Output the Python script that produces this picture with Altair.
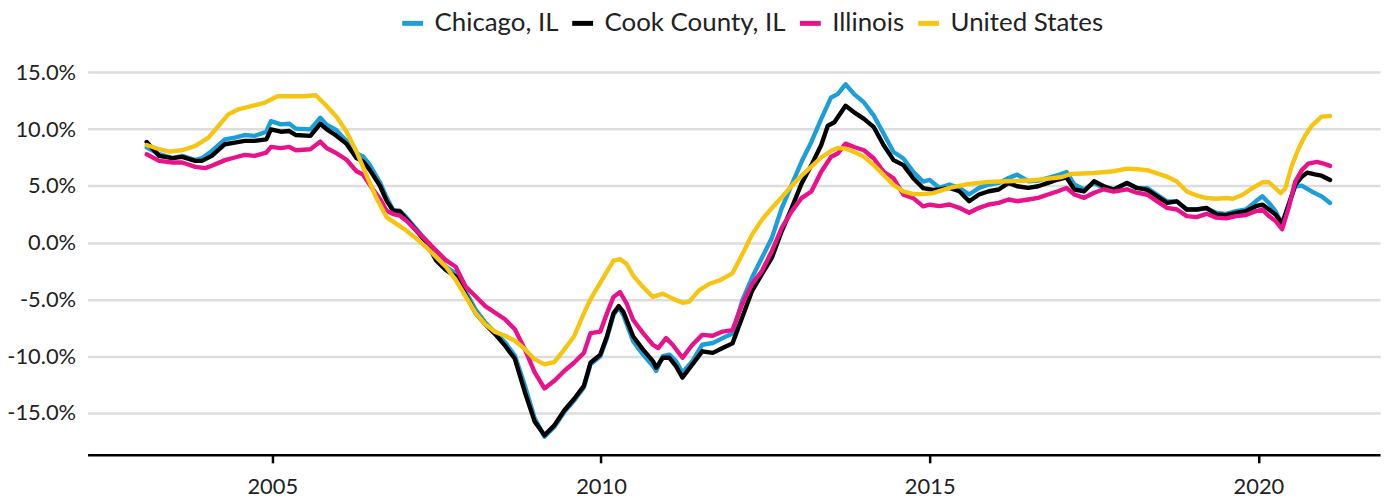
import altair as alt
import pandas as pd

series_names = ["Chicago, IL", "Cook County, IL", "Illinois", "United States"]
series_colors = ["#1c9fd9", "#000000", "#e8128a", "#f5c512"]

chicago_dates = [2003.09, 2003.28, 2003.48, 2003.63, 2003.83, 2003.93, 2004.08, 2004.28, 2004.43, 2004.58,
                 2004.73, 2004.91, 2004.98, 2005.13, 2005.26, 2005.36, 2005.58, 2005.73, 2005.83, 2005.96,
                 2006.13, 2006.28, 2006.38, 2006.48, 2006.64, 2006.74, 2006.84, 2006.94, 2007.04, 2007.19,
                 2007.34, 2007.49, 2007.64, 2007.79, 2007.94, 2008.09, 2008.24, 2008.39, 2008.54, 2008.69,
                 2008.84, 2008.99, 2009.14, 2009.29, 2009.44, 2009.59, 2009.74, 2009.84, 2009.99, 2010.09,
                 2010.19, 2010.27, 2010.34, 2010.49, 2010.64, 2010.79, 2010.84, 2010.94, 2011.04, 2011.14,
                 2011.24, 2011.39, 2011.54, 2011.70, 2011.85, 2012.00, 2012.15, 2012.30, 2012.45, 2012.60,
                 2012.75, 2012.90, 2013.05, 2013.20, 2013.35, 2013.50, 2013.60, 2013.72, 2013.85, 2014.00,
                 2014.15, 2014.30, 2014.45, 2014.60, 2014.75, 2014.90, 2015.00, 2015.15, 2015.30, 2015.45,
                 2015.60, 2015.75, 2015.90, 2016.05, 2016.20, 2016.33, 2016.50, 2016.65, 2016.80, 2016.95,
                 2017.08, 2017.20, 2017.35, 2017.50, 2017.65, 2017.80, 2018.00, 2018.15, 2018.31, 2018.46,
                 2018.61, 2018.76, 2018.91, 2019.06, 2019.21, 2019.36, 2019.51, 2019.66, 2019.81, 2019.96,
                 2020.06, 2020.16, 2020.26, 2020.36, 2020.46, 2020.56, 2020.66, 2020.81, 2020.96, 2021.09]
chicago_vals = [8.4, 7.79, 7.44, 7.64, 7.27, 7.44, 8.08, 9.1, 9.25, 9.48,
                9.4, 9.77, 10.7, 10.42, 10.47, 10.04, 9.98, 11.0, 10.36, 9.98,
                8.96, 7.88, 7.59, 6.87, 5.28, 3.97, 2.87, 2.81, 2.23, 1.22,
                0.2, -0.96, -2.12, -2.7, -4.29, -5.88, -7.04, -7.91, -8.78, -9.94,
                -12.55, -15.45, -17.1, -16.23, -14.93, -13.91, -12.75, -10.72, -10.0, -8.41,
                -6.38, -5.71, -6.38, -8.7, -9.86, -10.87, -11.3, -10.0, -9.86, -10.43,
                -11.45, -10.43, -8.99, -8.84, -8.41, -8.0, -5.09, -3.05, -1.31, 0.44,
                3.05, 5.09, 7.12, 8.87, 10.9, 12.79, 13.08, 13.95, 13.08, 12.35,
                11.19, 9.59, 7.99, 7.41, 6.25, 5.38, 5.52, 4.82, 5.12, 4.82,
                4.24, 4.82, 5.12, 5.26, 5.7, 5.99, 5.41, 5.47, 5.7, 5.94,
                6.23, 5.12, 4.68, 5.26, 4.82, 4.68, 5.26, 4.82, 4.8, 4.22,
                3.64, 3.64, 2.92, 2.92, 3.01, 2.63, 2.54, 2.77, 2.92, 3.64,
                4.08, 3.5, 2.77, 1.62, 3.35, 4.94, 5.03, 4.51, 4.08, 3.5]

cook_dates = [2003.09, 2003.28, 2003.48, 2003.63, 2003.83, 2003.93, 2004.08, 2004.28, 2004.43, 2004.58,
              2004.73, 2004.91, 2004.98, 2005.13, 2005.26, 2005.36, 2005.58, 2005.73, 2005.83, 2005.96,
              2006.13, 2006.28, 2006.38, 2006.48, 2006.64, 2006.74, 2006.84, 2006.94, 2007.04, 2007.19,
              2007.34, 2007.49, 2007.64, 2007.79, 2007.94, 2008.09, 2008.24, 2008.39, 2008.54, 2008.69,
              2008.84, 2008.99, 2009.14, 2009.29, 2009.44, 2009.59, 2009.74, 2009.84, 2009.99, 2010.09,
              2010.19, 2010.27, 2010.34, 2010.49, 2010.64, 2010.79, 2010.84, 2010.94, 2011.04, 2011.14,
              2011.24, 2011.39, 2011.54, 2011.70, 2011.85, 2012.00, 2012.15, 2012.30, 2012.45, 2012.60,
              2012.75, 2012.90, 2013.05, 2013.20, 2013.35, 2013.45, 2013.55, 2013.72, 2013.85, 2014.00,
              2014.15, 2014.30, 2014.45, 2014.60, 2014.75, 2014.90, 2015.05, 2015.15, 2015.30, 2015.45,
              2015.60, 2015.75, 2015.90, 2016.05, 2016.20, 2016.33, 2016.50, 2016.65, 2016.80, 2016.95,
              2017.08, 2017.20, 2017.35, 2017.50, 2017.65, 2017.80, 2018.00, 2018.15, 2018.31, 2018.46,
              2018.61, 2018.76, 2018.91, 2019.06, 2019.21, 2019.36, 2019.51, 2019.66, 2019.81, 2019.96,
              2020.06, 2020.16, 2020.26, 2020.36, 2020.46, 2020.56, 2020.66, 2020.74, 2020.86, 2020.96,
              2021.09]
cook_vals = [8.87, 7.64, 7.44, 7.56, 7.2, 7.2, 7.64, 8.67, 8.81, 8.96,
             8.96, 9.1, 9.98, 9.77, 9.83, 9.48, 9.4, 10.47, 9.98, 9.48,
             8.7, 7.45, 7.16, 6.43, 4.99, 3.68, 2.81, 2.75, 2.09, 1.07,
             0.06, -1.54, -2.41, -2.99, -4.58, -6.17, -7.19, -8.06, -9.07, -10.23,
             -13.13, -15.74, -16.96, -16.09, -14.78, -13.77, -12.61, -10.58, -9.86, -8.26,
             -6.23, -5.59, -6.09, -8.26, -9.42, -10.43, -11.01, -10.14, -10.14, -10.87,
             -11.88, -10.72, -9.57, -9.71, -9.28, -8.87, -6.54, -4.22, -2.76, -1.31,
             1.02, 3.05, 5.2, 6.83, 8.6, 10.3, 10.6, 12.06, 11.48, 10.9,
             10.17, 8.58, 7.27, 6.83, 5.67, 4.8, 4.65, 4.68, 4.82, 4.53,
             3.65, 4.24, 4.53, 4.68, 5.26, 4.97, 4.82, 4.97, 5.26, 5.56,
             5.76, 4.68, 4.53, 5.41, 4.97, 4.68, 5.26, 4.82, 4.65, 4.08,
             3.5, 3.64, 2.92, 2.92, 3.06, 2.49, 2.43, 2.63, 2.77, 3.21,
             3.35, 2.92, 2.49, 1.68, 3.35, 5.09, 5.81, 6.16, 6.01, 5.9,
             5.52]

illinois_dates = [2003.09, 2003.28, 2003.48, 2003.63, 2003.83, 2003.98, 2004.08, 2004.28, 2004.43, 2004.58,
                  2004.73, 2004.91, 2004.98, 2005.13, 2005.26, 2005.36, 2005.58, 2005.73, 2005.83, 2005.96,
                  2006.13, 2006.28, 2006.38, 2006.48, 2006.64, 2006.74, 2006.84, 2006.94, 2007.04, 2007.19,
                  2007.34, 2007.49, 2007.64, 2007.79, 2007.94, 2008.09, 2008.24, 2008.39, 2008.54, 2008.69,
                  2008.84, 2008.99, 2009.14, 2009.29, 2009.44, 2009.59, 2009.74, 2009.84, 2009.99, 2010.09,
                  2010.19, 2010.29, 2010.39, 2010.49, 2010.64, 2010.79, 2010.87, 2010.99, 2011.09, 2011.24,
                  2011.39, 2011.54, 2011.70, 2011.85, 2012.00, 2012.15, 2012.30, 2012.45, 2012.60, 2012.75,
                  2012.90, 2013.05, 2013.20, 2013.35, 2013.50, 2013.60, 2013.72, 2013.85, 2014.00, 2014.15,
                  2014.30, 2014.45, 2014.60, 2014.75, 2014.90, 2015.00, 2015.15, 2015.30, 2015.45, 2015.60,
                  2015.75, 2015.90, 2016.05, 2016.20, 2016.33, 2016.50, 2016.65, 2016.80, 2016.95, 2017.08,
                  2017.20, 2017.35, 2017.50, 2017.65, 2017.80, 2018.00, 2018.15, 2018.31, 2018.46, 2018.61,
                  2018.76, 2018.91, 2019.06, 2019.21, 2019.36, 2019.51, 2019.66, 2019.81, 2019.96, 2020.06,
                  2020.16, 2020.26, 2020.36, 2020.46, 2020.56, 2020.66, 2020.76, 2020.89, 2020.99, 2021.09]
illinois_vals = [7.79, 7.2, 7.06, 7.06, 6.68, 6.57, 6.77, 7.27, 7.5, 7.73,
                 7.64, 7.93, 8.43, 8.32, 8.43, 8.14, 8.23, 8.9, 8.32, 7.93,
                 7.3, 6.29, 6.0, 5.13, 3.83, 2.81, 2.52, 2.38, 1.94, 1.07,
                 0.2, -0.67, -1.54, -2.12, -3.86, -4.72, -5.59, -6.17, -6.75, -7.62,
                 -9.36, -11.4, -12.84, -12.17, -11.3, -10.58, -9.71, -7.97, -7.83, -6.23,
                 -4.78, -4.35, -5.36, -6.81, -7.97, -8.99, -9.28, -8.41, -8.99, -10.14,
                 -8.99, -8.12, -8.2, -7.83, -7.7, -5.38, -3.63, -2.47, -0.73, 1.31,
                 2.76, 3.92, 4.51, 6.25, 7.56, 7.85, 8.72, 8.43, 8.14, 7.41,
                 6.25, 5.67, 4.22, 3.92, 3.2, 3.34, 3.22, 3.36, 3.07, 2.63,
                 3.07, 3.36, 3.51, 3.8, 3.65, 3.8, 3.95, 4.24, 4.53, 4.82,
                 4.24, 3.95, 4.4, 4.7, 4.5, 4.7, 4.4, 4.22, 3.64, 3.06,
                 2.92, 2.34, 2.25, 2.54, 2.2, 2.14, 2.34, 2.43, 2.77, 2.92,
                 2.34, 1.91, 1.18, 3.06, 5.38, 6.39, 6.97, 7.11, 6.97, 6.76]

us_dates = [2003.09, 2003.28, 2003.43, 2003.63, 2003.83, 2004.03, 2004.18, 2004.33, 2004.48, 2004.68,
            2004.88, 2005.08, 2005.33, 2005.48, 2005.66, 2005.83, 2005.98, 2006.13, 2006.28, 2006.43,
            2006.58, 2006.74, 2006.89, 2007.04, 2007.19, 2007.34, 2007.49, 2007.64, 2007.79, 2007.94,
            2008.09, 2008.24, 2008.39, 2008.54, 2008.69, 2008.84, 2008.99, 2009.14, 2009.29, 2009.44,
            2009.59, 2009.74, 2009.82, 2009.89, 2010.04, 2010.19, 2010.29, 2010.39, 2010.49, 2010.64,
            2010.79, 2010.94, 2011.09, 2011.24, 2011.34, 2011.49, 2011.65, 2011.80, 2012.00, 2012.15,
            2012.30, 2012.45, 2012.60, 2012.75, 2012.90, 2013.05, 2013.20, 2013.35, 2013.50, 2013.60,
            2013.72, 2013.85, 2014.00, 2014.15, 2014.30, 2014.45, 2014.60, 2014.75, 2014.90, 2015.05,
            2015.30, 2015.60, 2015.90, 2016.20, 2016.50, 2016.80, 2017.00, 2017.15, 2017.50, 2017.80,
            2018.00, 2018.16, 2018.31, 2018.46, 2018.61, 2018.76, 2018.91, 2019.06, 2019.21, 2019.36,
            2019.51, 2019.61, 2019.76, 2019.91, 2020.06, 2020.16, 2020.34, 2020.41, 2020.51, 2020.61,
            2020.71, 2020.81, 2020.96, 2021.09]
us_vals = [8.6, 8.23, 8.02, 8.14, 8.52, 9.25, 10.27, 11.3, 11.73, 12.02,
           12.31, 12.9, 12.9, 12.9, 12.98, 12.02, 11.07, 9.77, 8.03, 6.0,
           3.97, 2.23, 1.65, 1.07, 0.35, -0.38, -1.25, -2.12, -3.28, -4.72,
           -6.17, -7.19, -7.86, -8.2, -8.64, -9.36, -10.26, -10.72, -10.52, -9.42,
           -8.26, -6.23, -5.22, -4.49, -3.04, -1.59, -1.45, -1.88, -2.9, -3.91,
           -4.78, -4.49, -4.93, -5.3, -5.22, -4.2, -3.62, -3.33, -2.7, -1.02,
           0.73, 2.03, 3.05, 4.0, 5.0, 5.9, 6.7, 7.5, 8.1, 8.34,
           8.28, 8.0, 7.56, 6.83, 5.96, 5.09, 4.51, 4.27, 4.27, 4.36,
           4.82, 5.18, 5.35, 5.41, 5.47, 5.64, 5.76, 6.05, 6.14, 6.29,
           6.52, 6.47, 6.39, 6.1, 5.81, 5.38, 4.51, 4.16, 3.93, 3.87,
           3.93, 3.87, 4.22, 4.8, 5.32, 5.32, 4.36, 4.8, 6.82, 8.27,
           9.42, 10.29, 11.1, 11.16]

x_ticks = [2005, 2010, 2015, 2020]
y_ticks = [-15, -10, -5, 0, 5, 10, 15]

rows = []
for name, dates, vals in [
    (series_names[0], chicago_dates, chicago_vals),
    (series_names[1], cook_dates, cook_vals),
    (series_names[2], illinois_dates, illinois_vals),
    (series_names[3], us_dates, us_vals),
]:
    assert len(dates) == len(vals), name
    for d, v in zip(dates, vals):
        rows.append({"date": d, "value": v, "series": name})
df = pd.DataFrame(rows)

chart = alt.Chart(df).mark_line(strokeWidth=4.4, strokeJoin="round", strokeCap="round").encode(
    x=alt.X(
        "date:Q",
        scale=alt.Scale(domain=[2002.19, 2021.85], nice=False, zero=False),
        axis=alt.Axis(values=x_ticks, format="d", title=None, grid=False,
                      domainColor="#000000", domainWidth=2.5, tickColor="#000000",
                      tickWidth=2.5, tickSize=8, labelFontSize=22, labelPadding=14,
                      labelColor="#222222"),
    ),
    y=alt.Y(
        "value:Q",
        scale=alt.Scale(domain=[-18.69, 15.55], nice=False, zero=False),
        axis=alt.Axis(values=y_ticks,
                      labelExpr="(datum.value < 0 ? '-' : '') + format(abs(datum.value), '.1f') + '%'",
                      title=None, domain=False, ticks=False, gridColor="#dddddd", gridWidth=2.5,
                      labelFontSize=22, labelPadding=12, labelColor="#222222"),
    ),
    color=alt.Color(
        "series:N",
        sort=series_names,
        scale=alt.Scale(domain=series_names, range=series_colors),
        legend=alt.Legend(title=None, orient="none", direction="horizontal",
                          legendX=314, legendY=-56, symbolType="stroke",
                          symbolStrokeWidth=5, symbolSize=441, labelFontSize=26,
                          labelColor="#222222", labelLimit=0, columnPadding=3,
                          labelOffset=9, padding=0),
    ),
).properties(
    width=1300,
    height=391,
    autosize="none",
    padding={"left": 80, "top": 57, "right": 8, "bottom": 52},
).configure(
    font="Lato",
    background="white",
).configure_view(stroke=None)

chart.save("out.html", embed_options={"renderer": "svg", "actions": False})
